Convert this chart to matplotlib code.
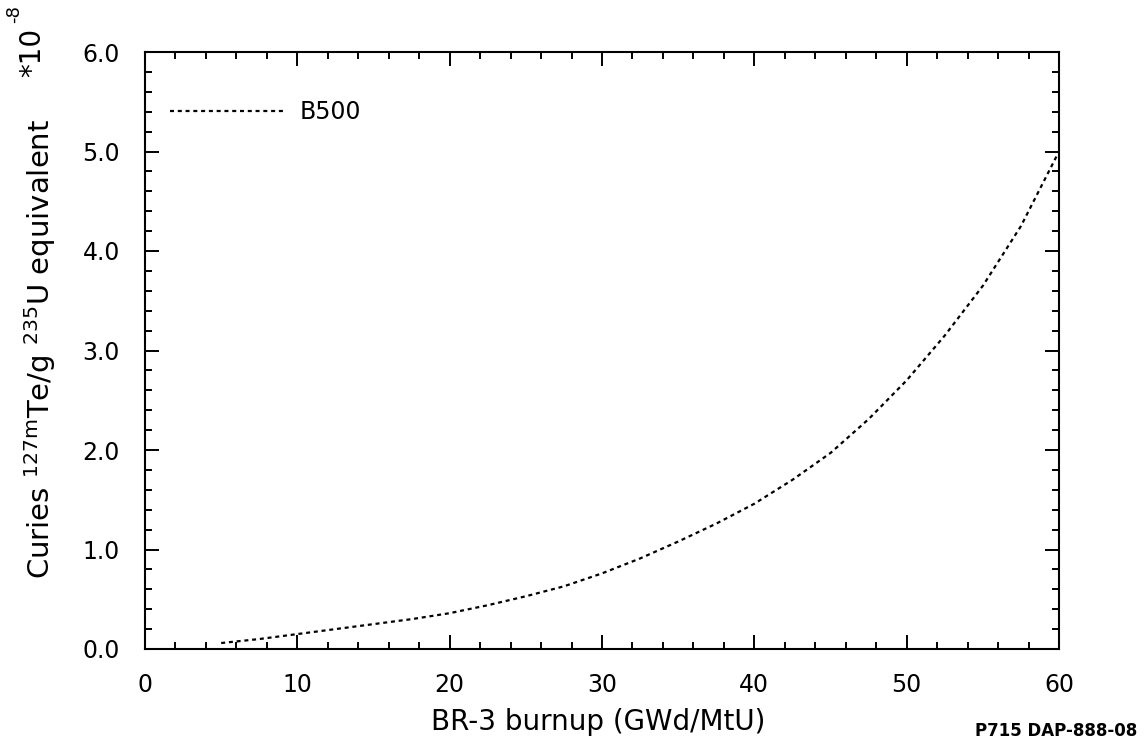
import matplotlib
matplotlib.use("Agg")
import matplotlib.pyplot as plt
from matplotlib.ticker import MultipleLocator, FormatStrFormatter

plt.rcParams['font.family'] = ['DejaVu Sans']

# Burnup (GWd/MtU) and activity (units of 1e-8 Ci/g 235U)
burnup = [5, 7.5, 10, 12.5, 15, 17.5, 20, 22.5, 25, 27.5, 30, 32.5, 35, 37.5,
          40, 42.5, 45, 47.5, 50, 52.5, 55, 57.5, 60]
activity = [0.06, 0.10, 0.15, 0.20, 0.25, 0.30, 0.36, 0.44, 0.53, 0.63, 0.76, 0.91,
            1.08, 1.26, 1.46, 1.70, 1.97, 2.31, 2.70, 3.15, 3.65, 4.25, 5.0]
series_name = "B500"
x_ticks = [0, 10, 20, 30, 40, 50, 60]
y_ticks = [0.0, 1.0, 2.0, 3.0, 4.0, 5.0, 6.0]

W, H = 1146, 745
fig = plt.figure(figsize=(W / 100, H / 100), dpi=100)
ax = fig.add_axes([145 / W, 1 - 649 / H, (1059 - 145) / W, (649 - 52) / H])

ax.plot(burnup, activity, color='black', lw=1.6, linestyle=(0, (1.8, 1.7)),
        label=series_name)

ax.set_xlim(0, 60)
ax.set_ylim(0, 6)
ax.set_xticks(x_ticks)
ax.set_yticks(y_ticks)
ax.xaxis.set_minor_locator(MultipleLocator(2))
ax.yaxis.set_minor_locator(MultipleLocator(0.2))
ax.yaxis.set_major_formatter(FormatStrFormatter('%.1f'))
ax.tick_params(which='both', direction='in', top=True, right=True, width=1.4, colors='black')
ax.tick_params(which='major', length=10, labelsize=17)
ax.tick_params(axis='x', which='major', pad=17)
ax.tick_params(axis='y', which='major', pad=18)
ax.tick_params(which='minor', length=5)
for s in ax.spines.values():
    s.set_linewidth(1.5)

ax.set_xlabel("BR-3 burnup (GWd/MtU)", fontsize=20)
ax.xaxis.set_label_coords(0.496, -0.098)
ax.set_ylabel(r"Curies $^{127\mathrm{m}}$Te/g $^{235}$U equivalent", fontsize=21)
ax.yaxis.set_label_coords(-0.095, 0.503)

# scale factor of the y axis
fig.text(32 / W, 1 - 52 / H, "*10", rotation=90, fontsize=20, ha='center', va='center')
fig.text(14 / W, 1 - 14 / H, "-8", rotation=90, fontsize=13, ha='center', va='center')

ax.legend(loc='center left', frameon=False, fontsize=17, handlelength=4.9,
          handletextpad=0.6, borderpad=0, borderaxespad=0,
          bbox_to_anchor=((170 - 145) / 914, (649 - 112) / 597))

fig.text(1137 / W, 1 - 731 / H, "P715 DAP-888-08", fontsize=12, fontweight='bold',
         ha='right', va='center')

fig.savefig("out.png", dpi=100, facecolor='white')
